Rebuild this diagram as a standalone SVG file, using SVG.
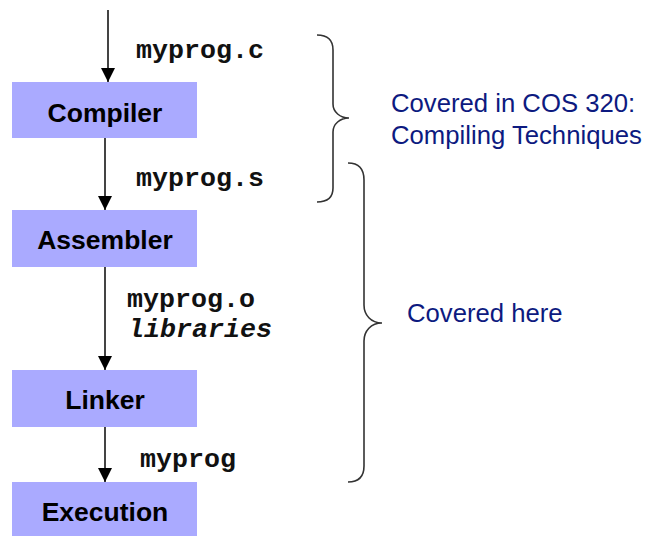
<svg xmlns="http://www.w3.org/2000/svg" width="655" height="536" viewBox="0 0 655 536">
<style>
.box{fill:#aaaaff}
.lbl{font-family:"Liberation Sans",Arial,sans-serif;font-weight:bold;font-size:26.5px;fill:#000;text-anchor:middle}
.code{font-family:"Liberation Mono","Courier New",monospace;font-weight:bold;font-size:25px;fill:#111}
.note{font-family:"Liberation Sans",Arial,sans-serif;font-size:25.7px;fill:#0d1a80}
.edge{stroke:#444;stroke-width:2;fill:none;marker-end:url(#ah)}
.brace{stroke:#333;stroke-width:1.6;fill:none}
</style>
<defs>
<marker id="ah" markerUnits="userSpaceOnUse" markerWidth="14" markerHeight="14" viewBox="0 0 14 14" refX="14" refY="7" orient="auto">
<path d="M0,0 L14,7 L0,14 Z" fill="#000"/>
</marker>
</defs>
<rect width="655" height="536" fill="#fff"/>
<g id="connectors">
<line class="edge" x1="108" y1="10" x2="108" y2="82"/>
<line class="edge" x1="105" y1="138" x2="105" y2="210"/>
<line class="edge" x1="105" y1="267" x2="105" y2="370"/>
<line class="edge" x1="105" y1="427" x2="105" y2="482"/>
<text class="code" x="136" y="58" textLength="128" lengthAdjust="spacingAndGlyphs">myprog.c</text>
<text class="code" x="136" y="186" textLength="128" lengthAdjust="spacingAndGlyphs">myprog.s</text>
<text class="code" x="127" y="307" textLength="128" lengthAdjust="spacingAndGlyphs">myprog.o</text>
<text class="code" x="128" y="337" font-style="italic" textLength="144" lengthAdjust="spacingAndGlyphs">libraries</text>
<text class="code" x="140" y="467" textLength="96" lengthAdjust="spacingAndGlyphs">myprog</text>
</g>
<g id="compiler">
<rect class="box" x="12" y="82" width="185" height="56"/>
<text class="lbl" x="105" y="122">Compiler</text>
</g>
<g id="assembler">
<rect class="box" x="12" y="210" width="185" height="57"/>
<text class="lbl" x="105" y="249">Assembler</text>
</g>
<g id="linker">
<rect class="box" x="12" y="370" width="185" height="57"/>
<text class="lbl" x="105" y="409">Linker</text>
</g>
<g id="execution">
<rect class="box" x="12" y="482" width="185" height="54"/>
<text class="lbl" x="105" y="521">Execution</text>
</g>
<g id="brace-cos320">
<path class="brace" d="M317,35 C328,35 333,40 333,50 L333,104 C333,112 340,118 349,118 C340,118 333,124 333,132 L333,188 C333,197 328,202 317,202"/>
<text class="note" x="391" y="112">Covered in COS 320:</text>
<text class="note" x="391" y="144">Compiling Techniques</text>
</g>
<g id="brace-here">
<path class="brace" d="M348,163 C359,163 364,169 364,180 L364,305 C364,315 371,323 382,323 C371,323 364,331 364,341 L364,466 C364,476 359,482 348,482"/>
<text class="note" x="407" y="322" font-size="26.5">Covered here</text>
</g>
</svg>
